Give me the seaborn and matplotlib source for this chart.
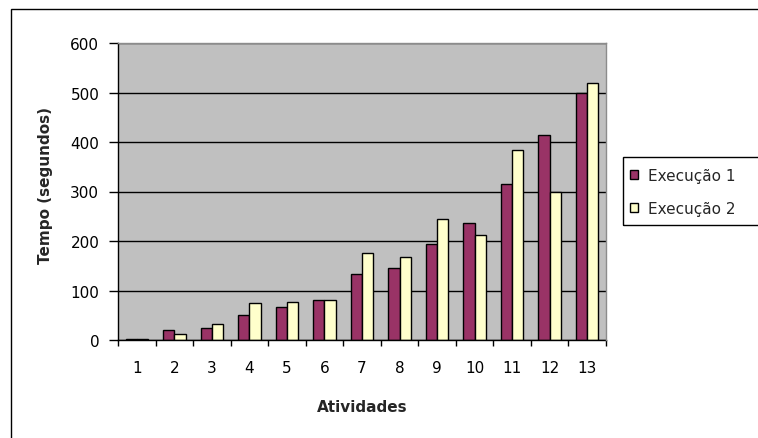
import numpy as np
import pandas as pd
import matplotlib
matplotlib.use("Agg")
import matplotlib.pyplot as plt
from matplotlib.patches import Rectangle
import seaborn as sns

# Activity numbers and measured times (seconds) for the two runs
atividades = [str(i) for i in range(1, 14)]
execucao_1 = [3, 21, 24, 50, 66, 81, 134, 145, 194, 236, 315, 414, 500]
execucao_2 = [2, 13, 32, 74, 77, 81, 175, 168, 244, 213, 384, 300, 520]
series_names = ["Execução 1", "Execução 2"]
y_ticks = [0, 100, 200, 300, 400, 500, 600]

df = pd.DataFrame({
    "Atividade": atividades * 2,
    "Tempo": execucao_1 + execucao_2,
    "Execução": [series_names[0]] * len(atividades) + [series_names[1]] * len(atividades),
})

sns.set_style("white")
plt.rcParams["font.family"] = ["DejaVu Sans"]

W, H = 758, 439
fig = plt.figure(figsize=(W / 100, H / 100), dpi=100)
fig.patch.set_facecolor("white")
ax = fig.add_axes([118 / W, 1 - 341 / H, 488 / W, 297 / H])

sns.barplot(
    data=df, x="Atividade", y="Tempo", hue="Execução",
    order=atividades, hue_order=series_names,
    palette=["#993366", "#FFFFCC"], width=0.6, gap=0,
    edgecolor="black", linewidth=1.0, saturation=1, ax=ax,
)

# plot area styling
ax.set_facecolor("#C0C0C0")
ax.set_axisbelow(True)
ax.yaxis.grid(True, color="black", linewidth=1.0)
ax.xaxis.grid(False)
for side in ("left", "bottom"):
    ax.spines[side].set_color("black")
    ax.spines[side].set_linewidth(1.0)
for side in ("top", "right"):
    ax.spines[side].set_color("#8c8c8c")
    ax.spines[side].set_linewidth(1.0)
    ax.spines[side].set_zorder(3)

ax.set_ylim(0, 600)
ax.set_yticks(y_ticks)
ax.set_xlim(-0.5, len(atividades) - 0.5)

# tick marks at category boundaries, labels at category centres
ax.set_xticks(np.arange(-0.5, len(atividades), 1.0))
ax.set_xticklabels([])
ax.set_xticks(np.arange(len(atividades)), labels=atividades, minor=True)
ax.tick_params(axis="x", which="major", direction="out", length=4.5, width=1, color="black", bottom=True)
ax.tick_params(axis="x", which="minor", length=0, pad=14.5, labelsize=11, labelcolor="black")
ax.tick_params(axis="y", direction="out", length=6.5, width=1, color="black", left=True,
               pad=7, labelsize=11, labelcolor="black")

ax.set_xlabel("Atividades", fontsize=11, fontweight="bold")
ax.set_ylabel("Tempo (segundos)", fontsize=11, fontweight="bold")
ax.xaxis.set_label_coords(0.5, (341 - 407.7) / 297)
ax.xaxis.label.set_va("center")
ax.yaxis.set_label_coords((45.5 - 118) / 488, (341 - 185) / 297)
ax.yaxis.label.set_va("center")

sns.move_legend(
    ax, "upper left", bbox_to_anchor=(630 / W, 1 - 169 / H), bbox_transform=fig.transFigure,
    frameon=False, title=None, fontsize=11, borderpad=0, borderaxespad=0,
    handlelength=0.55, handleheight=0.55, handletextpad=0.6, labelspacing=1.15,
)
for h in ax.get_legend().legend_handles:
    h.set_edgecolor("black")
    h.set_linewidth(1.0)

# legend box and chart-area border
fig.patches.append(Rectangle((623 / W, 1 - 226 / H), 0.3, 68 / H, transform=fig.transFigure,
                             fill=False, edgecolor="black", linewidth=1.0))
fig.patches.append(Rectangle((11 / W, -0.1), 1.0, 1 - 10 / H + 0.1, transform=fig.transFigure,
                             fill=False, edgecolor="black", linewidth=1.0))

fig.savefig("out.png", dpi=100)
